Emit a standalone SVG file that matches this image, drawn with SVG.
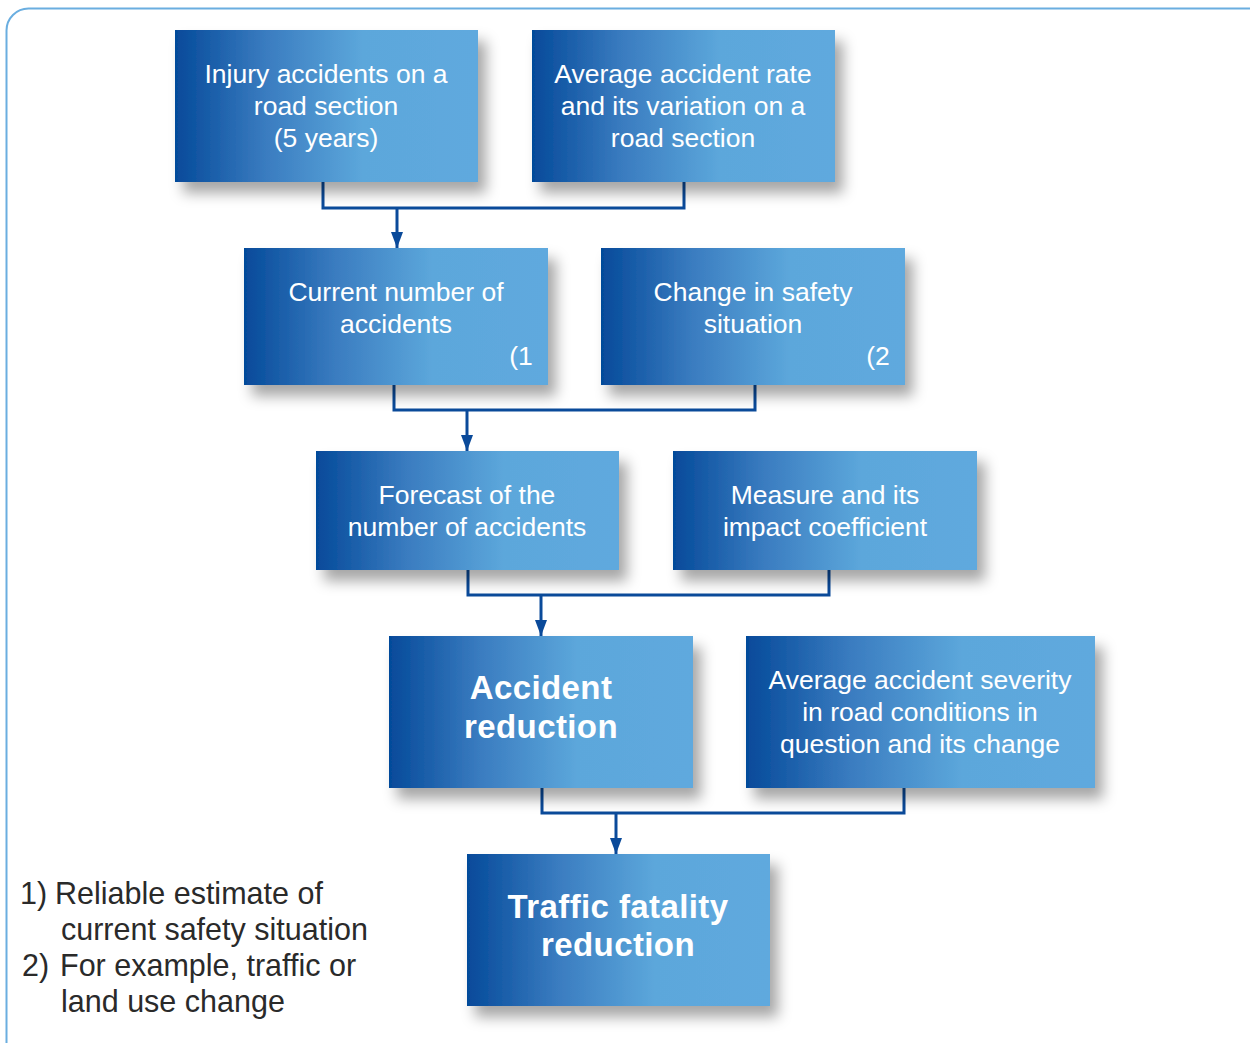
<svg xmlns="http://www.w3.org/2000/svg" width="1250" height="1043" viewBox="0 0 1250 1043">
<defs>
<linearGradient id="g" x1="0" y1="0" x2="1" y2="0">
<stop offset="0" stop-color="#054a9a"/>
<stop offset="0.3" stop-color="#3a7cc0"/>
<stop offset="0.62" stop-color="#5ca7db"/>
<stop offset="1" stop-color="#5fa9de"/>
</linearGradient>
<filter id="sh" x="-10%" y="-10%" width="130%" height="140%">
<feDropShadow dx="8" dy="11" stdDeviation="7" flood-color="#000" flood-opacity="0.35"/>
</filter>
<marker id="ah" viewBox="0 0 16 12" refX="16" refY="6" markerWidth="5.33" markerHeight="4" orient="auto" markerUnits="strokeWidth">
<path d="M0,0 L16,6 L0,12 z" fill="#0a4a9a"/>
</marker>
<style>
.box{fill:url(#g);filter:url(#sh)}
.t{font-family:"Liberation Sans",Arial,sans-serif;font-size:26.5px;fill:#fff;text-anchor:middle}
.b{font-family:"Liberation Sans",Arial,sans-serif;font-size:33px;font-weight:bold;fill:#fff;text-anchor:middle;letter-spacing:0.4px}
.n{font-family:"Liberation Sans",Arial,sans-serif;font-size:30.5px;fill:#2a2a2a}
.c{fill:none;stroke:#0a4a9a;stroke-width:3}
</style>
</defs>
<rect x="0" y="0" width="1250" height="1043" fill="#fff"/>
<rect x="6.5" y="8.5" width="1270" height="1060" rx="22" fill="none" stroke="#6aaee0" stroke-width="2"/>

<g id="connectors">
<path class="c" d="M323,182 V208 H684 V182"/>
<path class="c" d="M397,208 V248" marker-end="url(#ah)"/>
<path class="c" d="M394,385 V410 H755 V385"/>
<path class="c" d="M467,410 V451" marker-end="url(#ah)"/>
<path class="c" d="M468,570 V595 H829 V570"/>
<path class="c" d="M541,595 V636" marker-end="url(#ah)"/>
<path class="c" d="M542,788 V813 H904 V788"/>
<path class="c" d="M616,813 V854" marker-end="url(#ah)"/>
</g>

<g id="n1"><rect class="box" x="175" y="30" width="303" height="152"/>
<text class="t"><tspan x="326" y="83">Injury accidents on a</tspan><tspan x="326" y="115">road section</tspan><tspan x="326" y="147">(5 years)</tspan></text></g>

<g id="n2"><rect class="box" x="532" y="30" width="303" height="152"/>
<text class="t"><tspan x="683" y="83">Average accident rate</tspan><tspan x="683" y="115">and its variation on a</tspan><tspan x="683" y="147">road section</tspan></text></g>

<g id="n3"><rect class="box" x="244" y="248" width="304" height="137"/>
<text class="t"><tspan x="396" y="301">Current number of</tspan><tspan x="396" y="333">accidents</tspan><tspan x="521" y="365">(1</tspan></text></g>

<g id="n4"><rect class="box" x="601" y="248" width="304" height="137"/>
<text class="t"><tspan x="753" y="301">Change in safety</tspan><tspan x="753" y="333">situation</tspan><tspan x="878" y="365">(2</tspan></text></g>

<g id="n5"><rect class="box" x="316" y="451" width="303" height="119"/>
<text class="t"><tspan x="467" y="504">Forecast of the</tspan><tspan x="467" y="536">number of accidents</tspan></text></g>

<g id="n6"><rect class="box" x="673" y="451" width="304" height="119"/>
<text class="t"><tspan x="825" y="504">Measure and its</tspan><tspan x="825" y="536">impact coefficient</tspan></text></g>

<g id="n7"><rect class="box" x="389" y="636" width="304" height="152"/>
<text class="b"><tspan x="541" y="699">Accident</tspan><tspan x="541" y="738">reduction</tspan></text></g>

<g id="n8"><rect class="box" x="746" y="636" width="349" height="152"/>
<text class="t"><tspan x="920" y="689">Average accident severity</tspan><tspan x="920" y="721">in road conditions in</tspan><tspan x="920" y="753">question and its change</tspan></text></g>

<g id="n9"><rect class="box" x="467" y="854" width="303" height="152"/>
<text class="b"><tspan x="618" y="918">Traffic fatality</tspan><tspan x="618" y="956">reduction</tspan></text></g>

<g id="notes">
<text class="n"><tspan x="20" y="904">1)</tspan><tspan x="55" y="904">Reliable estimate of</tspan><tspan x="61" y="940">current safety situation</tspan><tspan x="22" y="976">2)</tspan><tspan x="60" y="976">For example, traffic or</tspan><tspan x="61" y="1012">land use change</tspan></text>
</g>
</svg>
